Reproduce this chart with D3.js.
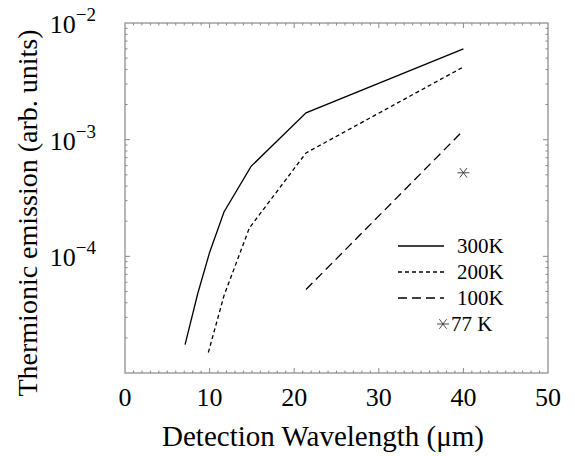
<!DOCTYPE html>
<html>
<head>
<meta charset="utf-8">
<script src="https://cdn.jsdelivr.net/npm/d3@7"></script>
<style>
  body { margin: 0; background: #fff; }
  svg text { font-family: "Liberation Serif", "Times New Roman", Tinos !important; }
</style>
</head>
<body>
<script>
// données (longueur d'onde en µm, émission en u.a.)
const wl300 = [7.1, 8.6, 10, 11.7, 14.9, 21.4, 40];
const em300 = [1.75e-5, 4.8e-5, 1.08e-4, 2.4e-4, 5.9e-4, 1.7e-3, 6.0e-3];
const wl200 = [9.85, 11.7, 14.7, 21.4, 40];
const em200 = [1.5e-5, 4.6e-5, 1.75e-4, 7.7e-4, 4.2e-3];
const wl100 = [21.4, 40];
const em100 = [5.2e-5, 1.2e-3];
const wl77 = [40];
const em77 = [5.2e-4];
const seriesNames = ["300K", "200K", "100K", "77 K"];
const xTicks = [0, 10, 20, 30, 40, 50];
const yTicks = [1e-5, 1e-4, 1e-3, 1e-2];

const width = 575;
const height = 456;
const margin = { top: 23, right: 27, bottom: 83, left: 125 };
const serif = '"Liberation Serif", "Times New Roman", Tinos';

const svg = d3
  .select("body")
  .append("svg")
  .attr("width", width)
  .attr("height", height);

const x = d3.scaleLinear().domain([0, 50]).range([margin.left, width - margin.right]);
const y = d3.scaleLog().domain([1e-5, 1e-2]).range([height - margin.bottom, margin.top]);

const frame = "#888";

// petites graduations (tous les 1 µm, et 2..9 par décade)
const xMinor = d3.range(0, 51, 1).filter((v) => v % 10 !== 0);
const yMinor = [];
for (let e = -5; e < -2; e++) for (let m = 2; m < 10; m++) yMinor.push(m * Math.pow(10, e));

const ticks = svg.append("g").attr("stroke", frame).attr("stroke-width", 1);

// axe x en bas et en haut
[y.range()[0], y.range()[1]].forEach((yy, i) => {
  const dir = i === 0 ? -1 : 1;
  ticks.selectAll(null).data(xMinor).join("line")
    .attr("x1", (d) => x(d)).attr("x2", (d) => x(d))
    .attr("y1", yy).attr("y2", yy + dir * 2.5);
  ticks.selectAll(null).data(xTicks.slice(1, -1)).join("line")
    .attr("x1", (d) => x(d)).attr("x2", (d) => x(d))
    .attr("y1", yy).attr("y2", yy + dir * 5);
});

// axe y à gauche et à droite
[x.range()[0], x.range()[1]].forEach((xx, i) => {
  const dir = i === 0 ? 1 : -1;
  ticks.selectAll(null).data(yMinor).join("line")
    .attr("y1", (d) => y(d)).attr("y2", (d) => y(d))
    .attr("x1", xx).attr("x2", xx + dir * 2.5);
  ticks.selectAll(null).data(yTicks.slice(1, -1)).join("line")
    .attr("y1", (d) => y(d)).attr("y2", (d) => y(d))
    .attr("x1", xx).attr("x2", xx + dir * 5);
});

// cadre
svg.append("rect")
  .attr("x", x(0)).attr("y", y(1e-2))
  .attr("width", x(50) - x(0)).attr("height", y(1e-5) - y(1e-2))
  .attr("fill", "none").attr("stroke", frame).attr("stroke-width", 1.2);

// étiquettes x
svg.append("g")
  .selectAll("text")
  .data(xTicks)
  .join("text")
  .attr("x", (d) => x(d))
  .attr("y", y(1e-5) + 33)
  .attr("text-anchor", "middle")
  .attr("font-family", serif)
  .attr("font-size", 26)
  .text((d) => d);

// étiquettes y : 10^n (sauf 10^-5)
const yl = svg.append("g")
  .selectAll("text")
  .data(yTicks.slice(1))
  .join("text")
  .attr("x", 96)
  .attr("y", (d) => y(d) + 10)
  .attr("text-anchor", "end")
  .attr("font-family", serif)
  .attr("font-size", 26);
yl.append("tspan").text("10");
yl.append("tspan")
  .attr("dy", -12)
  .attr("font-size", 19)
  .text((d) => "\u2212" + Math.round(-Math.log10(d)));

// titres des axes
svg.append("text")
  .attr("x", 323)
  .attr("y", 446)
  .attr("text-anchor", "middle")
  .attr("font-family", serif)
  .attr("font-size", 29)
  .text("Detection Wavelength (\u03bcm)");

svg.append("text")
  .attr("transform", `translate(37,213) rotate(-90)`)
  .attr("text-anchor", "middle")
  .attr("font-family", serif)
  .attr("font-size", 28)
  .text("Thermionic emission (arb. units)");

// courbes
const line = d3.line().x((d) => x(d[0])).y((d) => y(d[1]));
const curves = [
  { name: seriesNames[0], pts: d3.zip(wl300, em300), dash: null },
  { name: seriesNames[1], pts: d3.zip(wl200, em200), dash: "4 3" },
  { name: seriesNames[2], pts: d3.zip(wl100, em100), dash: "9 5" },
];

svg.selectAll(".curve")
  .data(curves)
  .join("path")
  .attr("class", "curve")
  .attr("fill", "none")
  .attr("stroke", "#000")
  .attr("stroke-width", 1.3)
  .attr("stroke-dasharray", (d) => d.dash)
  .attr("d", (d) => line(d.pts));

// étoile 77 K
function star(g, cx, cy, r) {
  [[-r, 0, r, 0], [-r * 0.6, -r * 0.8, r * 0.6, r * 0.8], [-r * 0.6, r * 0.8, r * 0.6, -r * 0.8]]
    .forEach((s) => {
      g.append("line")
        .attr("x1", cx + s[0]).attr("y1", cy + s[1])
        .attr("x2", cx + s[2]).attr("y2", cy + s[3])
        .attr("stroke", "#333").attr("stroke-width", 0.9);
    });
}
d3.zip(wl77, em77).forEach((p) => star(svg, x(p[0]), y(p[1]), 6));

// légende
const leg = svg.append("g");
const rowY = [246, 272, 298, 324];
curves.forEach((c, i) => {
  leg.append("line")
    .attr("x1", 398).attr("x2", 444)
    .attr("y1", rowY[i]).attr("y2", rowY[i])
    .attr("stroke", "#000").attr("stroke-width", 1.3)
    .attr("stroke-dasharray", c.dash);
});
star(leg, 443, rowY[3], 6);
seriesNames.forEach((n, i) => {
  leg.append("text")
    .attr("x", i === 3 ? 451 : 457)
    .attr("y", rowY[i] + 7)
    .attr("font-family", serif)
    .attr("font-size", 21)
    .text(n);
});
</script>
</body>
</html>
